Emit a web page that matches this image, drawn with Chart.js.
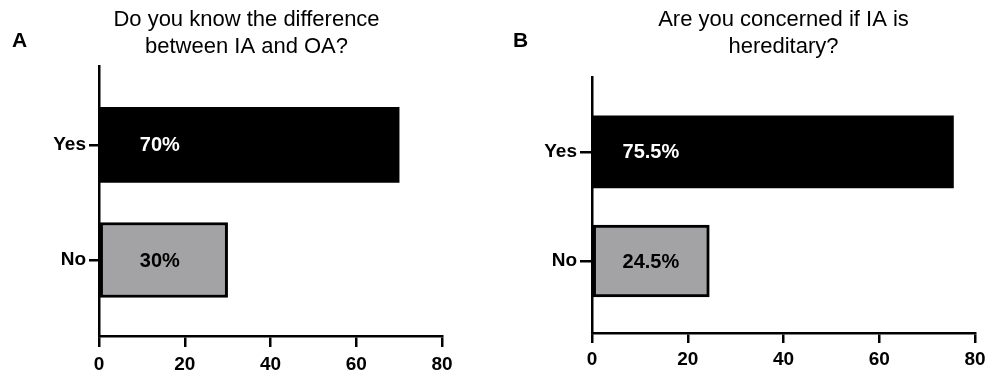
<!DOCTYPE html>
<html>
<head>
<meta charset="utf-8">
<script src="https://cdn.jsdelivr.net/npm/chart.js@4"></script>
<style>
    html, body { margin: 0; padding: 0; background: #fff; }
    #wrap { position: relative; width: 1000px; height: 386px; overflow: hidden; }
    .panel { position: absolute; top: 0; width: 500px; height: 386px; }
    .letter { position: absolute; top: 29px; font: bold 21px "Liberation Sans", Arial, sans-serif; line-height: 21px; color: #000; }
</style>
</head>
<body>
<div id="wrap">
    <div class="panel" style="left:0"><canvas id="chartA"></canvas></div>
    <div class="panel" style="left:500px"><canvas id="chartB"></canvas></div>
    <div class="letter" style="left:12px">A</div>
    <div class="letter" style="left:513px">B</div>
</div>
<script>
// Данные
const answers = ['Yes', 'No'];
const knowDiff = [70, 30];
const hereditary = [75.5, 24.5];
const xTicks = [0, 20, 40, 60, 80];
const titleA = ['Do you know the difference', 'between IA and OA?'];
const titleB = ['Are you concerned if IA is', 'hereditary?'];

Chart.defaults.color = '#000';

const SANS = '"Liberation Sans", Arial, sans-serif';

// подписи внутри столбцов
const valueLabels = {
    id: 'valueLabels',
    afterDatasetsDraw(chart, args, opts) {
        const ctx = chart.ctx;
        const xs = chart.scales.x;
        const meta = chart.getDatasetMeta(0);
        const ds = chart.data.datasets[0];
        ctx.save();
        ctx.font = opts.font;
        ctx.textAlign = 'center';
        ctx.textBaseline = 'middle';
        meta.data.forEach((bar, i) => {
            ctx.fillStyle = opts.colors[i];
            ctx.fillText(ds.data[i].x + '%', xs.getPixelForValue(opts.at), bar.y + 1);
        });
        ctx.restore();
    }
};

function makeChart(id, title, values, cfg) {
    const ctx = document.getElementById(id).getContext('2d');
    return new Chart(ctx, {
        type: 'bar',
        data: {
            datasets: [{
                data: values.map((v, i) => ({ x: v, y: i })),
                backgroundColor: ['#000000', '#a3a2a4'],
                borderColor: ['#000000', '#000000'],
                borderWidth: [0, 3],
                borderSkipped: false,
                barThickness: cfg.barThickness
            }]
        },
        options: {
            indexAxis: 'y',
            responsive: true,
            maintainAspectRatio: false,
            animation: false,
            layout: { padding: cfg.padding },
            plugins: {
                legend: { display: false },
                tooltip: { enabled: false },
                title: {
                    display: true,
                    text: title,
                    fullSize: cfg.titleFull,
                    color: '#000',
                    font: { family: SANS, size: 22, weight: 'normal', lineHeight: 1.22 },
                    padding: { top: 7, bottom: cfg.titleGap }
                },
                valueLabels: { at: cfg.labelAt, font: 'bold 20px ' + SANS, colors: ['#ffffff', '#000000'] }
            },
            scales: {
                x: {
                    type: 'linear',
                    min: 0,
                    max: 80,
                    afterBuildTicks: (s) => { s.ticks = xTicks.map(v => ({ value: v })); },
                    afterFit: (s) => { s.height = 40; },
                    border: { color: '#000', width: 2.5 },
                    grid: { drawOnChartArea: false, drawTicks: true, tickLength: cfg.xTickLen, color: '#000', lineWidth: 2.5 },
                    ticks: { font: { family: SANS, size: 19, weight: 'bold' }, padding: cfg.xPad, maxRotation: 0 }
                },
                y: {
                    type: 'linear',
                    reverse: true,
                    offset: false,
                    min: -0.68,
                    max: 1.66,
                    afterBuildTicks: (s) => { s.ticks = answers.map((a, i) => ({ value: i })); },
                    afterFit: (s) => { s.width = 48; },
                    border: { color: '#000', width: 2.5 },
                    grid: { offset: false, drawOnChartArea: false, drawTicks: true, tickLength: cfg.yTickLen, color: '#000', lineWidth: 2.5 },
                    ticks: {
                        font: { family: SANS, size: 19, weight: 'bold' },
                        padding: 3,
                        callback: (v) => answers[v]
                    }
                }
            }
        },
        plugins: [valueLabels]
    });
}

makeChart('chartA', titleA, knowDiff, {
    padding: { left: 51, right: 58, top: 0, bottom: 10 },
    titleFull: true, titleGap: 6, barThickness: 75,
    xTickLen: 11, xPad: 6, yTickLen: 10,
    labelAt: 14.2
});

makeChart('chartB', titleB, hereditary, {
    padding: { left: 44, right: 25, top: 0, bottom: 13 },
    titleFull: false, titleGap: 17, barThickness: 72,
    xTickLen: 10, xPad: 5, yTickLen: 12,
    labelAt: 12.3
});
</script>
</body>
</html>
